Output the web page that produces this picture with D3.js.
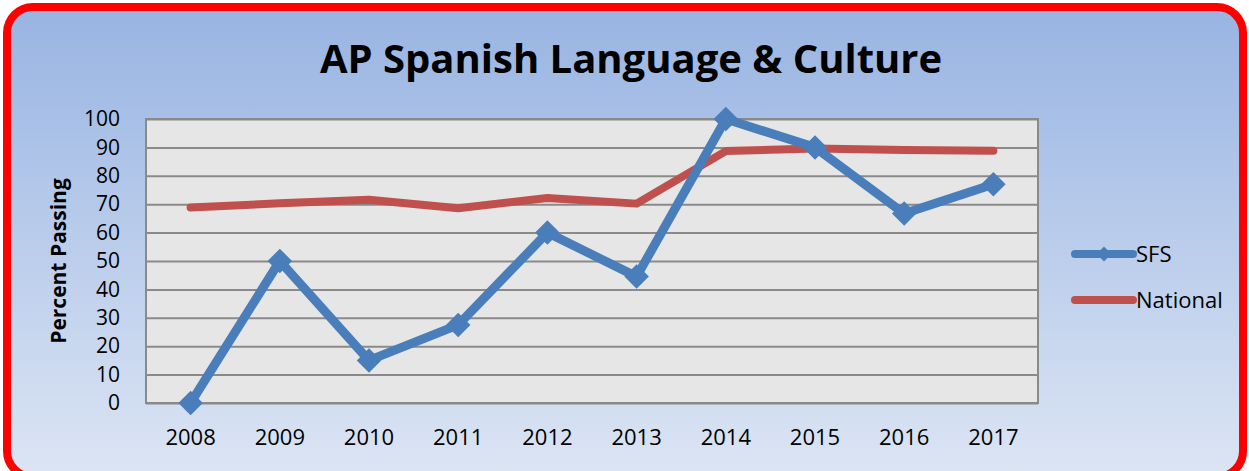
<!DOCTYPE html>
<html>
<head>
<meta charset="utf-8">
<script src="https://cdn.jsdelivr.net/npm/d3@7"></script>
<style>
  html, body { margin: 0; padding: 0; background: #fff; }
  svg { display: block; font-family: "Open Sans", sans-serif; }
</style>
</head>
<body>
<div id="chart"></div>
<script>
// data
var years = ["2008", "2009", "2010", "2011", "2012", "2013", "2014", "2015", "2016", "2017"];
var sfs = [0, 50, 15, 27.5, 60, 44.5, 100, 90, 66.7, 77];
var national = [68.8, 70.3, 71.6, 68.6, 72.2, 70.2, 88.7, 89.6, 89.1, 88.8];
var yTicks = [0, 10, 20, 30, 40, 50, 60, 70, 80, 90, 100];
var seriesNames = ["SFS", "National"];

var W = 1249, H = 471;
var margin = {top: 119, right: 211, bottom: 68, left: 146},
    width = W - margin.left - margin.right,
    height = H - margin.top - margin.bottom;

var svg = d3.select("#chart").append("svg")
    .attr("width", W)
    .attr("height", H);

// background gradient
var defs = svg.append("defs");
var grad = defs.append("linearGradient")
    .attr("id", "bg")
    .attr("x1", 0).attr("y1", 0).attr("x2", 0).attr("y2", 1);
grad.append("stop").attr("offset", "0%").attr("stop-color", "#98b4e2");
grad.append("stop").attr("offset", "100%").attr("stop-color", "#dce5f4");

svg.append("rect")
    .attr("x", 7).attr("y", 7)
    .attr("width", W - 13).attr("height", H - 1)
    .attr("rx", 26).attr("ry", 26)
    .attr("fill", "url(#bg)")
    .attr("stroke", "#ff0000")
    .attr("stroke-width", 8);

// title
svg.append("text")
    .attr("x", 631)
    .attr("y", 73)
    .attr("text-anchor", "middle")
    .style("font-size", "40px")
    .style("font-weight", "bold")
    .text("AP Spanish Language & Culture");

var g = svg.append("g")
    .attr("transform", "translate(" + margin.left + "," + margin.top + ")");

// scales
var x = d3.scaleBand().domain(years).range([0, width]);
var y = d3.scaleLinear().domain([0, 100]).range([height, 0]);

// plot area
g.append("rect")
    .attr("width", width)
    .attr("height", height)
    .attr("fill", "#e6e6e6")
    .attr("stroke", "#8a8a8a")
    .attr("stroke-width", 2);

// gridlines
g.append("g")
    .call(d3.axisLeft(y).tickValues(yTicks).tickSize(-width).tickFormat(""))
    .call(function(a) { a.select(".domain").remove(); })
    .selectAll("line")
    .attr("stroke", "#8a8a8a")
    .attr("stroke-width", 2);

// Y axis labels
var yAxis = g.append("g")
    .call(d3.axisLeft(y).tickValues(yTicks).tickSize(0).tickPadding(26));
yAxis.select(".domain").remove();
yAxis.selectAll("text")
    .attr("fill", "#000")
    .style("font-size", "21px")
    .style("font-family", "Open Sans, sans-serif");

// X axis labels
var xAxis = g.append("g")
    .attr("transform", "translate(0," + height + ")")
    .call(d3.axisBottom(x).tickSize(0).tickPadding(26));
xAxis.select(".domain").remove();
xAxis.selectAll("text")
    .attr("fill", "#000")
    .style("font-size", "22px")
    .style("font-family", "Open Sans, sans-serif");

// y axis title
svg.append("text")
    .attr("transform", "translate(66," + (margin.top + height / 2) + ") rotate(-90)")
    .attr("text-anchor", "middle")
    .style("font-size", "21px")
    .style("font-weight", "bold")
    .text("Percent Passing");

var line = d3.line()
    .x(function(d, i) { return x(years[i]) + x.bandwidth() / 2; })
    .y(function(d) { return y(d); });

// National line
g.append("path")
    .datum(national)
    .attr("fill", "none")
    .attr("stroke", "#c0504d")
    .attr("stroke-width", 8)
    .attr("stroke-linecap", "round")
    .attr("stroke-linejoin", "round")
    .attr("d", line);

// SFS line
g.append("path")
    .datum(sfs)
    .attr("fill", "none")
    .attr("stroke", "#4a7ebb")
    .attr("stroke-width", 9)
    .attr("stroke-linejoin", "round")
    .attr("d", line);

var diamond = d3.symbol().type(d3.symbolSquare).size(300);
g.selectAll(".pt")
    .data(sfs)
    .enter().append("path")
    .attr("class", "pt")
    .attr("fill", "#4a7ebb")
    .attr("d", diamond)
    .attr("transform", function(d, i) {
      return "translate(" + (x(years[i]) + x.bandwidth() / 2) + "," + y(d) + ") rotate(45)";
    });

// legend
var legend = svg.append("g").attr("transform", "translate(1075,254)");
var colors = ["#4a7ebb", "#c0504d"];
seriesNames.forEach(function(name, i) {
  var row = legend.append("g").attr("transform", "translate(0," + (i * 46) + ")");
  row.append("line")
      .attr("x1", 0).attr("x2", 58)
      .attr("stroke", colors[i])
      .attr("stroke-width", 8)
      .attr("stroke-linecap", "round");
  if (i === 0) {
    row.append("path")
        .attr("d", d3.symbol().type(d3.symbolSquare).size(110))
        .attr("transform", "translate(29,0) rotate(45)")
        .attr("fill", colors[i]);
  }
  row.append("text")
      .attr("x", 61)
      .attr("y", 8)
      .style("font-size", "22px")
      .text(name);
});
</script>
</body>
</html>
